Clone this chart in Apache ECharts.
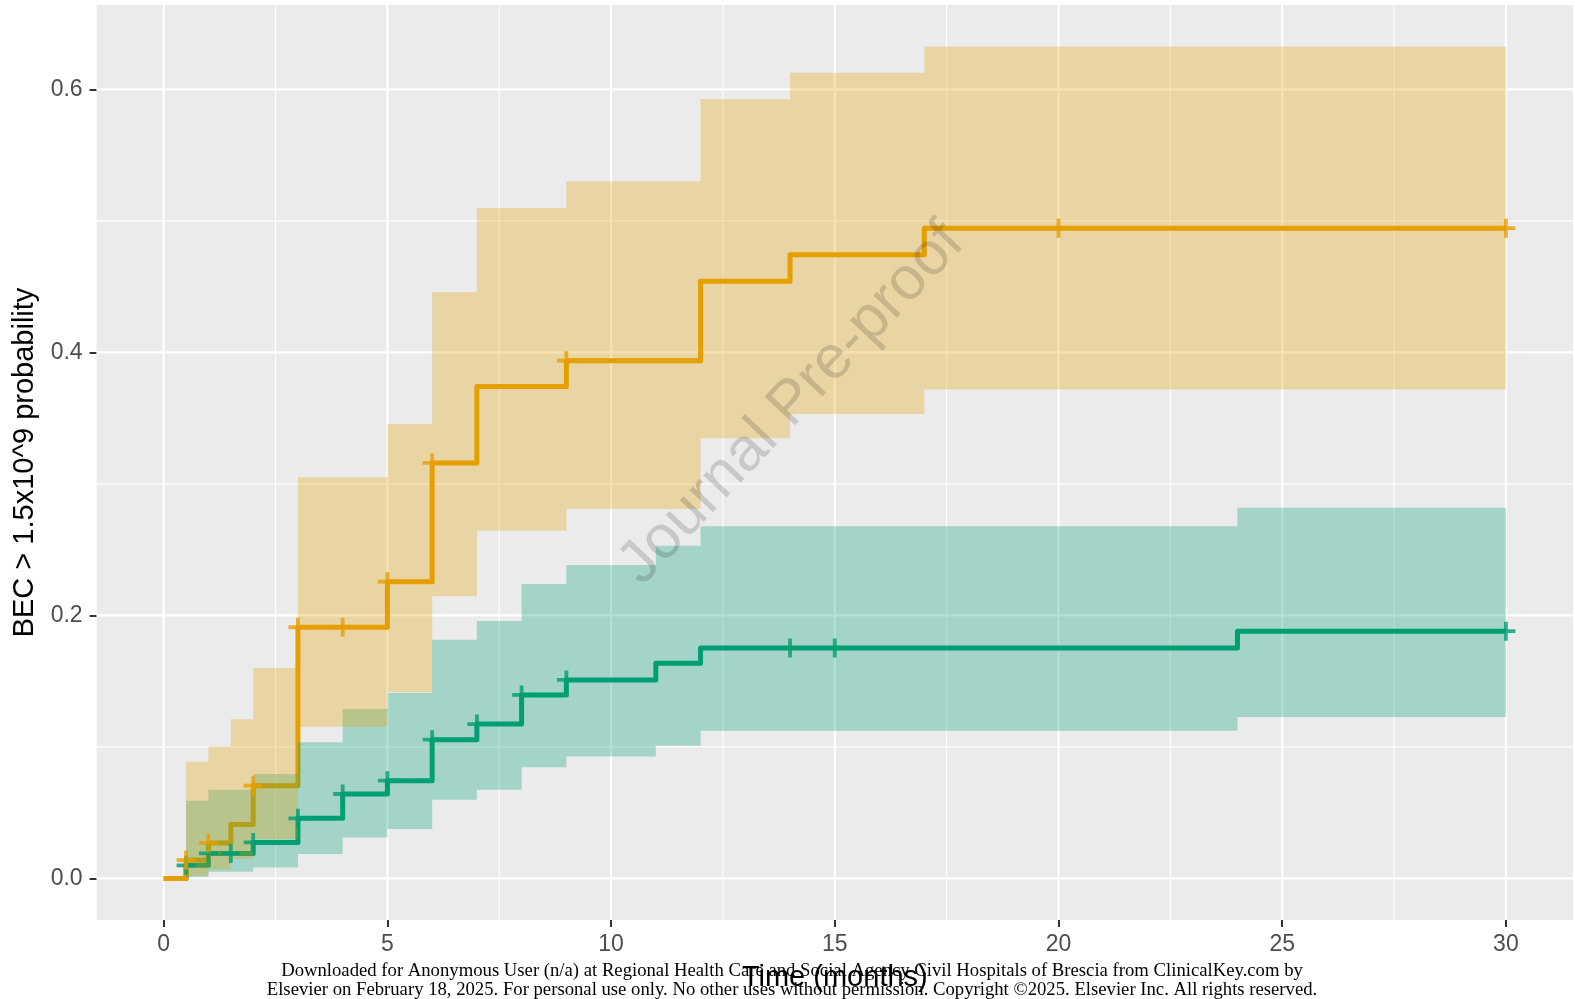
<!DOCTYPE html>
<html>
<head>
<meta charset="utf-8">
<script src="https://cdn.jsdelivr.net/npm/echarts@6/dist/echarts.min.js"></script>
<style>
html,body{margin:0;padding:0;background:#fff;}
#chart{width:1575px;height:999px;}
</style>
</head>
<body>
<div id="chart"></div>
<script>
// ---------------- data ----------------
const maxTime = 30;
// orange group (step start times, estimate, CI)
const orangeTimes = [0, 0.5, 1, 1.5, 2, 3, 5, 6, 7, 9, 12, 14, 17];
const orangeEst   = [0, 0.014, 0.027, 0.041, 0.0705, 0.191, 0.2256, 0.3159, 0.374, 0.3937, 0.454, 0.4743, 0.4944];
const orangeLower = [0, 0.002, 0.007, 0.015, 0.030, 0.1154, 0.1415, 0.2145, 0.2644, 0.2809, 0.3347, 0.3532, 0.3717];
const orangeUpper = [0, 0.0888, 0.1005, 0.121, 0.160, 0.305, 0.3456, 0.4457, 0.5098, 0.5301, 0.5927, 0.6125, 0.6325];
const orangeCensorTimes = [0.5, 1, 2, 3, 4, 5, 6, 9, 20, 30];
const orangeCensorVals  = [0.014, 0.027, 0.0705, 0.191, 0.191, 0.2256, 0.3159, 0.3937, 0.4944, 0.4944];

// green group
const greenTimes = [0, 0.5, 1, 2, 3, 4, 5, 6, 7, 8, 9, 11, 12, 24];
const greenEst   = [0, 0.010, 0.019, 0.0274, 0.0457, 0.0642, 0.0743, 0.1055, 0.1174, 0.1395, 0.1509, 0.1636, 0.1752, 0.188];
const greenLower = [0, 0.001, 0.005, 0.0084, 0.0186, 0.0312, 0.0376, 0.0599, 0.0675, 0.0845, 0.0928, 0.1009, 0.1123, 0.1227];
const greenUpper = [0, 0.059, 0.0675, 0.0794, 0.1035, 0.1288, 0.141, 0.1815, 0.1957, 0.2239, 0.2383, 0.253, 0.2677, 0.2819];
const greenCensorTimes = [0.5, 1, 1.5, 2, 3, 4, 5, 6, 7, 8, 9, 14, 15, 30];
const greenCensorVals  = [0.010, 0.019, 0.019, 0.0274, 0.0457, 0.0642, 0.0743, 0.1055, 0.1174, 0.1395, 0.1509, 0.1752, 0.1752, 0.188];

// axes
const xTicks = [0, 5, 10, 15, 20, 25, 30];
const xMinorGrid = [2.5, 7.5, 12.5, 17.5, 22.5, 27.5];
const yTicks = [0, 0.2, 0.4, 0.6];
const yMinorGrid = [0.1, 0.3, 0.5];
const xMin = -1.5, xMax = 31.5;
const yMin = -0.0316, yMax = 0.6641;

const ORANGE = '#E69F00', GREEN = '#009E73';

// ---------------- build ----------------
function stepLine(times, est) {
  const d = times.map((t, i) => [t, est[i]]);
  d.push([maxTime, est[est.length - 1]]);
  return d;
}
function censorData(ts, vs) { return ts.map((t, i) => [t, vs[i]]); }

function bandSeries(times, lower, upper, color, z) {
  return {
    type: 'custom', z: z, silent: true, data: [[0]],
    renderItem: function (params, api) {
      const pts = [];
      for (let i = 0; i < times.length; i++) {
        const t0 = times[i], t1 = (i + 1 < times.length) ? times[i + 1] : maxTime;
        pts.push(api.coord([t0, upper[i]]));
        pts.push(api.coord([t1, upper[i]]));
      }
      for (let i = times.length - 1; i >= 0; i--) {
        const t0 = times[i], t1 = (i + 1 < times.length) ? times[i + 1] : maxTime;
        pts.push(api.coord([t1, lower[i]]));
        pts.push(api.coord([t0, lower[i]]));
      }
      return { type: 'polygon', shape: { points: pts }, style: { fill: color } };
    }
  };
}

function gridSeries(xs, ys, width) {
  return {
    type: 'custom', z: 1, silent: true, data: [[0]],
    renderItem: function (params, api) {
      const children = [];
      xs.forEach(v => {
        const a = api.coord([v, yMin]), b = api.coord([v, yMax]);
        children.push({ type: 'line', shape: { x1: a[0], y1: a[1], x2: b[0], y2: b[1] }, style: { stroke: '#FFFFFF', lineWidth: width } });
      });
      ys.forEach(v => {
        const a = api.coord([xMin, v]), b = api.coord([xMax, v]);
        children.push({ type: 'line', shape: { x1: a[0], y1: a[1], x2: b[0], y2: b[1] }, style: { stroke: '#FFFFFF', lineWidth: width } });
      });
      return { type: 'group', children: children };
    }
  };
}

const plusPath = 'path://M0 7.2L18 7.2L18 10.8L0 10.8Z M7.2 0L10.8 0L10.8 18L7.2 18Z';

const chart = echarts.init(document.getElementById('chart'), null, { renderer: 'canvas' });
const option = {
  animation: false,
  backgroundColor: '#FFFFFF',
  textStyle: { fontFamily: 'Liberation Sans, Arial, sans-serif' },
  grid: { left: 96.6, right: 2, top: 5, bottom: 79, show: true, backgroundColor: '#EBEBEB', borderWidth: 0 },
  xAxis: {
    type: 'value', min: xMin, max: xMax,
    name: 'Time (months)', nameLocation: 'middle', nameGap: 43,
    nameTextStyle: { fontSize: 29, color: '#000000', fontFamily: 'Liberation Sans, Arial, sans-serif' },
    axisLine: { show: false, onZero: false },
    axisTick: { show: true, customValues: xTicks, length: 7, lineStyle: { color: '#333333', width: 2 } },
    axisLabel: { customValues: xTicks, fontSize: 23, color: '#4D4D4D', margin: 13, formatter: v => String(v) },
    splitLine: { show: false }
  },
  yAxis: {
    type: 'value', min: yMin, max: yMax,
    name: 'BEC > 1.5x10^9 probability', nameLocation: 'middle', nameGap: 52, nameRotate: 90,
    nameTextStyle: { fontSize: 29, color: '#000000', fontFamily: 'Liberation Sans, Arial, sans-serif' },
    axisLine: { show: false, onZero: false },
    axisTick: { show: true, customValues: yTicks, length: 7, lineStyle: { color: '#333333', width: 2 } },
    axisLabel: { customValues: yTicks, fontSize: 23, color: '#4D4D4D', margin: 14, formatter: v => v.toFixed(1) },
    splitLine: { show: false }
  },
  series: [
    gridSeries(xMinorGrid, yMinorGrid, 1.1),
    gridSeries(xTicks, yTicks, 2.2),
    { type: 'line', z: 2, step: 'end', data: stepLine(greenTimes, greenEst), showSymbol: false, silent: true,
      lineStyle: { color: GREEN, width: 5, cap: 'butt', join: 'round' } },
    { type: 'line', z: 2, step: 'end', data: stepLine(orangeTimes, orangeEst), showSymbol: false, silent: true,
      lineStyle: { color: ORANGE, width: 5, cap: 'butt', join: 'round' } },
    bandSeries(greenTimes, greenLower, greenUpper, 'rgba(0,158,115,0.3)', 3),
    bandSeries(orangeTimes, orangeLower, orangeUpper, 'rgba(230,159,0,0.3)', 4),
    { type: 'scatter', z: 5, silent: true, data: censorData(greenCensorTimes, greenCensorVals),
      symbol: plusPath, symbolSize: 19, itemStyle: { color: GREEN } },
    { type: 'scatter', z: 5, silent: true, data: censorData(orangeCensorTimes, orangeCensorVals),
      symbol: plusPath, symbolSize: 19, itemStyle: { color: ORANGE } }
  ],
  graphic: [
    { type: 'text', z: 100, silent: true, x: 792, y: 404, rotation: 46.6 * Math.PI / 180,
      style: { text: 'Journal Pre-proof', fontSize: 61, fontFamily: 'Liberation Sans, Arial, sans-serif',
        fill: 'rgba(0,0,0,0.15)', textAlign: 'center', textVerticalAlign: 'middle' } },
    { type: 'text', z: 100, silent: true, x: 792, y: 971,
      style: { text: 'Downloaded for Anonymous User (n/a) at Regional Health Care and Social Agency Civil Hospitals of Brescia from ClinicalKey.com by',
        fontSize: 18.7, fontFamily: 'Liberation Serif, Times New Roman, serif', fill: '#000000', textAlign: 'center', textVerticalAlign: 'middle' } },
    { type: 'text', z: 100, silent: true, x: 792, y: 990,
      style: { text: 'Elsevier on February 18, 2025. For personal use only. No other uses without permission. Copyright ©2025. Elsevier Inc. All rights reserved.',
        fontSize: 18.7, fontFamily: 'Liberation Serif, Times New Roman, serif', fill: '#000000', textAlign: 'center', textVerticalAlign: 'middle' } }
  ]
};
chart.setOption(option);
</script>
</body>
</html>
